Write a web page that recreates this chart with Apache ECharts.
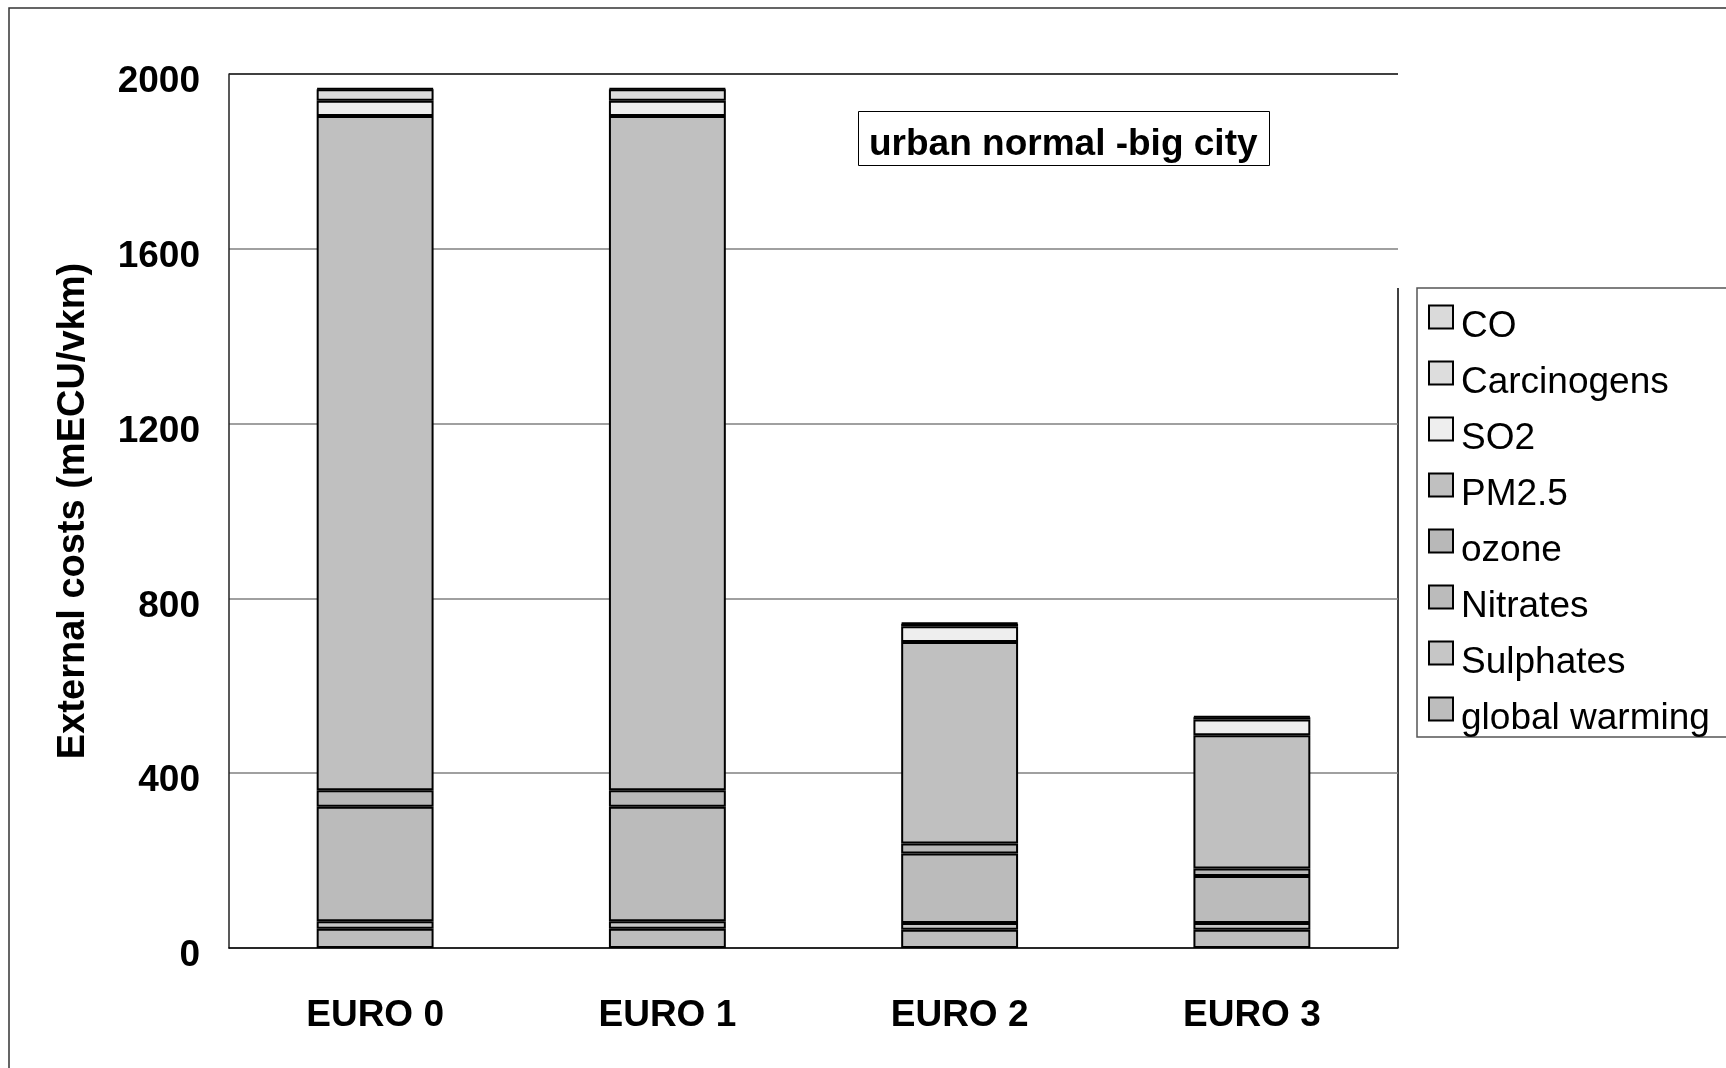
<!DOCTYPE html>
<html>
<head>
<meta charset="utf-8">
<script src="https://cdn.jsdelivr.net/npm/echarts@6/dist/echarts.min.js"></script>
<style>
html,body{margin:0;padding:0;background:#fff;}
#chart{width:1726px;height:1068px;}
</style>
</head>
<body>
<div id="chart"></div>
<script>
// ---- data (mECU/vkm) ----
const categories = ['EURO 0', 'EURO 1', 'EURO 2', 'EURO 3'];
const globalWarming = [44, 44, 42, 42];
const sulphates = [17, 17, 15, 15];
const nitrates = [262, 262, 159, 108];
const ozone = [38, 38, 23, 17];
const pm25 = [1543, 1543, 461, 305];
const so2 = [35, 35, 36, 36];
const carcinogens = [26, 26, 6, 5];
const co = [2, 2, 2, 2];
const yTicks = [0, 400, 800, 1200, 1600, 2000];
const legendOrder = ['CO', 'Carcinogens', 'SO2', 'PM2.5', 'ozone', 'Nitrates', 'Sulphates', 'global warming'];

const FONT = "'Liberation Sans', Arial, Helvetica, sans-serif";

// stacking order bottom -> top
const stackDefs = [
  { name: 'global warming', data: globalWarming, color: '#bdbdbd' },
  { name: 'Sulphates', data: sulphates, color: '#c6c6c6' },
  { name: 'Nitrates', data: nitrates, color: '#bbbbbb' },
  { name: 'ozone', data: ozone, color: '#b8b8b8' },
  { name: 'PM2.5', data: pm25, color: '#c0c0c0' },
  { name: 'SO2', data: so2, color: '#eeeeee' },
  { name: 'Carcinogens', data: carcinogens, color: '#dddddd' },
  { name: 'CO', data: co, color: '#dadada' }
];

const series = stackDefs.map(d => ({
  name: d.name,
  type: 'bar',
  stack: 'total',
  barWidth: '40%',
  data: d.data,
  itemStyle: { color: d.color, borderColor: '#000', borderWidth: 2 },
  emphasis: { disabled: true }
}));

const chart = echarts.init(document.getElementById('chart'), null, { renderer: 'canvas' });

chart.setOption({
  animation: false,
  backgroundColor: '#ffffff',
  textStyle: { fontFamily: FONT },
  title: {
    text: 'urban normal -big city',
    left: 858,
    top: 111,
    padding: [15, 12, 3, 11],
    borderColor: '#000',
    borderWidth: 1,
    backgroundColor: '#fff',
    textStyle: { fontFamily: FONT, fontWeight: 'bold', fontSize: 37, lineHeight: 37, color: '#000' }
  },
  legend: {
    data: legendOrder,
    orient: 'vertical',
    left: 1417,
    top: 288,
    padding: [1, 30, 0, 11],
    itemGap: 0,
    itemWidth: 24,
    itemHeight: 23,
    icon: 'rect',
    backgroundColor: '#fff',
    borderColor: '#555',
    borderWidth: 1.5,
    borderRadius: 0,
    itemStyle: { borderColor: '#000', borderWidth: 2 },
    formatter: name => '{t|' + name + '}',
    textStyle: {
      fontFamily: FONT, fontSize: 37, color: '#000',
      rich: { t: { fontFamily: FONT, fontSize: 37, color: '#000', lineHeight: 34, padding: [19, 0, 0, 3] } }
    },
    selectedMode: false
  },
  grid: { left: 229, right: 328, top: 74, bottom: 120, containLabel: false },
  xAxis: {
    type: 'category',
    data: categories,
    axisLine: { lineStyle: { color: '#000', width: 1.5 } },
    axisTick: { show: false },
    axisLabel: { margin: 49, fontFamily: FONT, fontWeight: 'bold', fontSize: 37, color: '#000' }
  },
  yAxis: {
    type: 'value',
    min: yTicks[0],
    max: yTicks[yTicks.length - 1],
    interval: yTicks[1] - yTicks[0],
    name: 'External costs (mECU/vkm)',
    nameLocation: 'middle',
    nameRotate: 90,
    nameGap: 136,
    nameTextStyle: { fontFamily: FONT, fontWeight: 'bold', fontSize: 38, color: '#000' },
    axisLine: { show: true, lineStyle: { color: '#222', width: 1.5 } },
    axisTick: { show: false },
    axisLabel: {
      margin: 29, color: '#000',
      formatter: v => '{v|' + v + '}',
      rich: { v: { fontFamily: FONT, fontWeight: 'bold', fontSize: 37, color: '#000', lineHeight: 40, padding: [16, 0, 0, 0] } }
    },
    splitLine: { show: true, lineStyle: { color: ['#808080', '#808080', '#808080', '#808080', '#808080', '#000000'], width: 1.5 } }
  },
  graphic: [
    { type: 'rect', shape: { x: 9, y: 8, width: 1740, height: 1080 }, style: { fill: 'none', stroke: '#333', lineWidth: 1.5 }, silent: true, z: -10 },
    { type: 'line', shape: { x1: 1398, y1: 288, x2: 1398, y2: 948 }, style: { stroke: '#000', lineWidth: 1.5 }, silent: true }
  ],
  series: series
});
</script>
</body>
</html>
